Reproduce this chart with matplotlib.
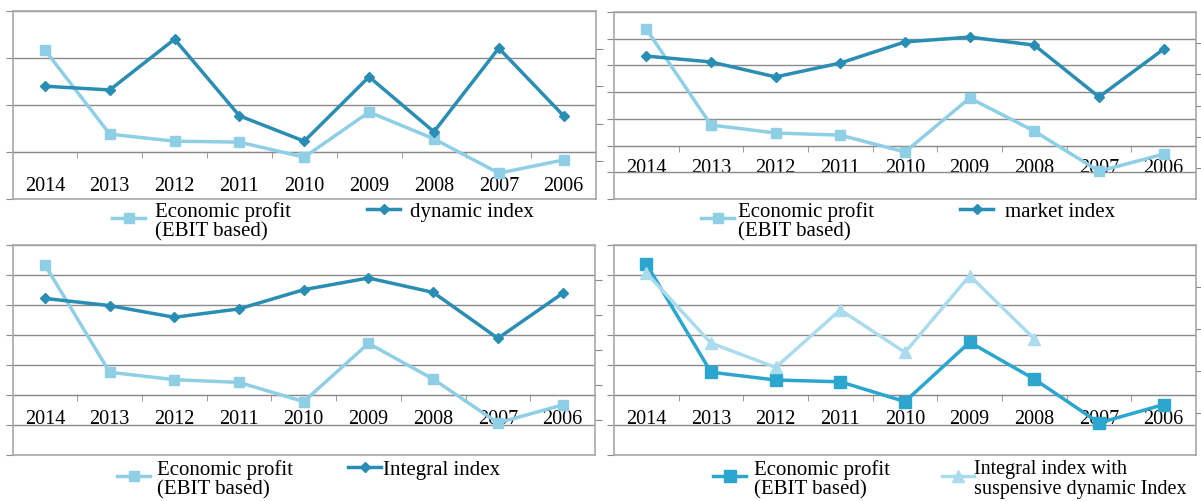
import numpy as np
import matplotlib.pyplot as plt

plt.rcParams['font.family'] = ['Liberation Serif', 'DejaVu Serif']

years = ['2014', '2013', '2012', '2011', '2010', '2009', '2008', '2007', '2006']

# top-left panel
ep_dyn = [2.17, 0.38, 0.23, 0.21, -0.11, 0.85, 0.28, -0.45, -0.17]
dynamic_index = [1.40, 1.32, 2.40, 0.77, 0.23, 1.60, 0.43, 2.21, 0.77]
# top-right panel
ep_mkt = [4.36, 0.77, 0.47, 0.39, -0.24, 1.78, 0.54, -0.96, -0.32]
market_index = [3.35, 3.13, 2.57, 3.09, 3.88, 4.06, 3.76, 1.82, 3.61]
# bottom-left panel
ep_int = [4.34, 0.76, 0.51, 0.42, -0.22, 1.72, 0.53, -0.93, -0.33]
integral_index = [3.22, 2.98, 2.59, 2.87, 3.51, 3.90, 3.42, 1.89, 3.39]
# bottom-right panel
ep_susp = [4.37, 0.76, 0.50, 0.44, -0.22, 1.76, 0.53, -0.93, -0.32]
integral_susp = [4.07, 1.73, 0.92, 2.84, 1.42, 3.98, 1.87, np.nan, np.nan]

LIGHT = '#8fcfe6'
DARK = '#2a8db3'
BRIGHT = '#2ba6cf'
PALE = '#abdcee'
GRID = '#8a8a8a'
BOX = '#a8a8a8'

W, H = 1201, 501
fig = plt.figure(figsize=(W / 100, H / 100), dpi=100)
x = np.arange(len(years))


def panel(l, t, r, b, ylim, right_n, pad):
    ax = fig.add_axes([l / W, 1 - b / H, (r - l) / W, (b - t) / H])
    ax.set_xlim(-0.5, 8.5)
    ax.set_ylim(*ylim)
    ax.set_yticks(np.arange(ylim[0], ylim[1] + 1))
    ax.grid(axis='y', color=GRID, lw=1)
    ax.set_axisbelow(True)
    ax.tick_params(axis='y', direction='out', length=5, color=GRID, labelleft=False)
    ax.set_xticks([])
    for s in ax.spines.values():
        s.set_color(BOX)
        s.set_linewidth(1.2)
    frac = -ylim[0] / (ylim[1] - ylim[0])
    sec = ax.secondary_xaxis(frac)
    sec.set_xticks(x, labels=years)
    sec.set_xticks(np.arange(0.5, 8), minor=True)
    sec.tick_params(which='major', length=0, pad=pad, labelsize=14.5)
    sec.tick_params(which='minor', length=4, color=GRID)
    sec.spines['bottom'].set_color(GRID)
    tw = ax.twinx()
    tw.set_ylim(0, right_n)
    tw.set_yticks(np.arange(1, right_n))
    tw.tick_params(direction='out', length=5, color=GRID, labelright=False)
    for s in tw.spines.values():
        s.set_visible(False)
    return ax


def legend_entry(h, text, xp, yp, textpad, fs=15, ls=1.0):
    # two-line labels: a taller handle box lifts the line toward the first row
    hh = 1.85 if '\n' in text else 0.7
    leg = fig.legend(handles=[h], labels=[text], loc='upper left',
                     bbox_to_anchor=(xp / W, 1 - yp / H), frameon=False,
                     fontsize=fs, handlelength=1.6, handletextpad=textpad,
                     handleheight=hh, borderpad=0, borderaxespad=0)
    for t in leg.get_texts():
        t.set_linespacing(ls)


ep_label = 'Economic profit\n(EBIT based)'

# top-left
ax1 = panel(12.5, 11, 596, 199, (-1, 3), 5, 18)
h1, = ax1.plot(x, ep_dyn, color=LIGHT, lw=2.5, marker='s', ms=7.5, clip_on=False)
h2, = ax1.plot(x, dynamic_index, color=DARK, lw=2.5, marker='D', ms=5.5, clip_on=False)
legend_entry(h1, ep_label, 112, 202, 0.48)
legend_entry(h2, 'dynamic index', 367, 202, 0.48)

# top-right
ax2 = panel(614, 12, 1196, 199, (-2, 5), 6, 10)
h1, = ax2.plot(x, ep_mkt, color=LIGHT, lw=2.5, marker='s', ms=7.5, clip_on=False)
h2, = ax2.plot(x, market_index, color=DARK, lw=2.5, marker='D', ms=5.5, clip_on=False)
legend_entry(h1, ep_label, 701, 202, 0.19)
legend_entry(h2, 'market index', 960, 202, 0.58)

# bottom-left
ax3 = panel(12.5, 245, 595, 455, (-2, 5), 6, 11)
h1, = ax3.plot(x, ep_int, color=LIGHT, lw=2.5, marker='s', ms=7.5, clip_on=False)
h2, = ax3.plot(x, integral_index, color=DARK, lw=2.5, marker='D', ms=5.5, clip_on=False)
legend_entry(h1, ep_label, 117, 460, 0.34, ls=1.05)
legend_entry(h2, 'Integral index', 348, 460, 0.1)

# bottom-right
ax4 = panel(614, 245, 1196, 455, (-2, 5), 5, 11)
h1, = ax4.plot(x, ep_susp, color=BRIGHT, lw=2.5, marker='s', ms=8, clip_on=False)
h2, = ax4.plot(x, integral_susp, color=PALE, lw=2.5, marker='^', ms=8, clip_on=False)
legend_entry(h1, ep_label, 713, 460, 0.38, ls=1.05)
legend_entry(h2, 'Integral index with\nsuspensive dynamic Index', 942, 460, 0.0, fs=14.5, ls=1.05)

fig.savefig('out.png', dpi=100)
